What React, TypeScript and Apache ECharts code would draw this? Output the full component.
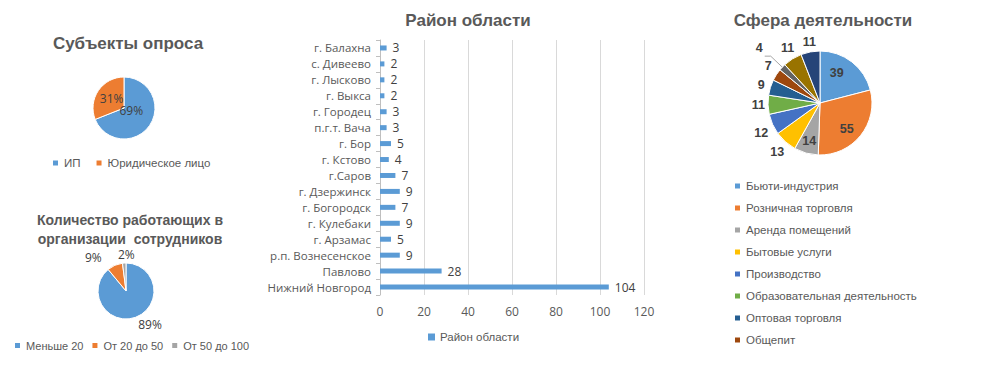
import React, { useEffect, useRef } from "react";
import * as echarts from "echarts";

const subjectNames = ["ИП", "Юридическое лицо"];
const subjectValues = [69, 31];

const staffNames = ["Меньше 20", "От 20 до 50", "От 50 до 100"];
const staffValues = [89, 9, 2];

const districtNames = [
  "г. Балахна", "с. Дивеево", "г. Лысково", "г. Выкса", "г. Городец", "п.г.т. Вача",
  "г. Бор", "г. Кстово", "г.Саров", "г. Дзержинск", "г. Богородск", "г. Кулебаки",
  "г. Арзамас", "р.п. Вознесенское", "Павлово", "Нижний Новгород",
];
const districtValues = [3, 2, 2, 2, 3, 3, 5, 4, 7, 9, 7, 9, 5, 9, 28, 104];

const sphereNames = [
  "Бьюти-индустрия", "Розничная торговля", "Аренда помещений", "Бытовые услуги",
  "Производство", "Образовательная деятельность", "Оптовая торговля", "Общепит",
  "Прочее 1", "Прочее 2", "Прочее 3",
];
const sphereValues = [39, 55, 14, 13, 12, 11, 9, 7, 4, 11, 11];
const sphereColors = [
  "#5B9BD5", "#ED7D31", "#A5A5A5", "#FFC000", "#4472C4", "#70AD47",
  "#255E91", "#9E480E", "#636363", "#997300", "#264478",
];

// label nudges (styling only)
const subjectNudge = [[-8, -8], [3, 1]];
const staffNudge = [[0, 0], [-10, 0], [11, -1]];
const sphereNudge = [
  [-1, -7], [4, 8], [-3, 10], [6, 4], [5, 5], [7, 0], [4, 0], [4, -4], [0, -8], [8, -4], [9, -2],
];

const FONT = "'Open Sans', 'Liberation Sans', sans-serif";
const TFONT = "'Liberation Sans', Arial, sans-serif";
const TXT = "#595959";
const LBL = "#404040";

const nudge = (arr: number[][]) => (p: any) => {
  const d = arr[p.dataIndex] || [0, 0];
  return { dx: d[0], dy: d[1], hideOverlap: false };
};

export default function App() {
  const ref = useRef<HTMLDivElement>(null);
  useEffect(() => {
    if (!ref.current) return;
    const chart = echarts.init(ref.current, null, { renderer: "svg" });
    const titleStyle = { color: TXT, fontWeight: "bold" as const, fontFamily: TFONT };
    const legendBase = {
      icon: "rect",
      itemWidth: 7,
      itemHeight: 7,
      textStyle: { color: TXT, fontSize: 11.5, fontFamily: TFONT },
    };
    chart.setOption({
      animation: false,
      textStyle: { fontFamily: FONT },
      title: [
        { text: "Субъекты опроса", left: 123, top: 30, textAlign: "center", textStyle: { ...titleStyle, fontSize: 17 } },
        {
          text: "Количество работающих в\nорганизации  сотрудников",
          left: 125, top: 205, textAlign: "center",
          textStyle: { ...titleStyle, fontSize: 14, lineHeight: 19 },
        },
        { text: "Район области", left: 463, top: 7, textAlign: "center", textStyle: { ...titleStyle, fontSize: 17 } },
        { text: "Сфера деятельности", left: 818, top: 7, textAlign: "center", textStyle: { ...titleStyle, fontSize: 17 } },
      ],
      legend: [
        { ...legendBase, data: subjectNames, left: 46, top: 152, itemGap: 14 },
        {
          ...legendBase, data: staffNames, left: 8, top: 335, itemGap: 7,
          textStyle: { color: TXT, fontSize: 11, fontFamily: TFONT },
        },
        { ...legendBase, data: ["Район области"], left: 423, top: 326 },
        {
          ...legendBase, data: sphereNames.slice(0, 8), orient: "vertical", left: 728, top: 174, itemGap: 8,
          textStyle: { color: TXT, fontSize: 11.5, fontFamily: TFONT, lineHeight: 14 },
        },
      ],
      grid: { left: 380, right: 346, top: 40, bottom: 94, containLabel: false },
      xAxis: {
        type: "value", min: 0, max: 120, interval: 20,
        axisLine: { show: false }, axisTick: { show: false },
        axisLabel: { color: TXT, fontSize: 12, margin: 10, fontFamily: FONT },
        splitLine: { lineStyle: { color: "#d9d9d9" } },
      },
      yAxis: {
        type: "category", inverse: true, data: districtNames,
        axisLine: { lineStyle: { color: "#bfbfbf" } },
        axisTick: { show: true, length: 4, lineStyle: { color: "#bfbfbf" } },
        axisLabel: { color: TXT, fontSize: 11.5, margin: 9, fontFamily: FONT },
      },
      series: [
        {
          type: "pie", name: "Субъекты опроса", center: [124, 108], radius: 31,
          data: subjectNames.map((n, i) => ({ name: n, value: subjectValues[i] })),
          color: ["#5B9BD5", "#ED7D31"],
          itemStyle: { borderColor: "#fff", borderWidth: 1 },
          label: { position: "inside", formatter: "{c}%", color: LBL, fontSize: 12, fontFamily: FONT },
          labelLine: { show: false },
          labelLayout: nudge(subjectNudge),
        },
        {
          type: "pie", name: "Количество", center: [126, 291], radius: 28,
          data: staffNames.map((n, i) => ({ name: n, value: staffValues[i] })),
          color: ["#5B9BD5", "#ED7D31", "#A5A5A5"],
          itemStyle: { borderColor: "#fff", borderWidth: 1 },
          label: { position: "outside", formatter: "{c}%", color: LBL, fontSize: 12, fontFamily: FONT, distanceToLabelLine: 0 },
          labelLine: { show: false, length: 8, length2: 0 },
          labelLayout: nudge(staffNudge),
          avoidLabelOverlap: false,
        },
        {
          type: "bar", name: "Район области", data: districtValues, barWidth: 5,
          itemStyle: { color: "#5B9BD5" },
          label: { show: true, position: "right", distance: 6, color: LBL, fontSize: 12, fontFamily: FONT },
        },
        {
          type: "pie", name: "Сфера деятельности", center: [820, 103], radius: 52,
          avoidLabelOverlap: false,
          labelLayout: nudge(sphereNudge),
          data: sphereNames.map((n, i) => ({
            name: n, value: sphereValues[i],
            itemStyle: { color: sphereColors[i] },
            label: i < 3 ? { position: "inside" } : { position: "outside" },
            labelLine: i === 8 ? { show: true, length: 16, length2: 6 } : { show: false, length: 8, length2: 0 },
          })),
          itemStyle: { borderColor: "#fff", borderWidth: 1 },
          label: { formatter: "{c}", color: LBL, fontSize: 12.5, fontWeight: "bold", fontFamily: TFONT, distanceToLabelLine: 2 },
          labelLine: { lineStyle: { color: "#a6a6a6" } },
        },
      ],
    });
    return () => chart.dispose();
  }, []);
  return (
    <div
      ref={ref}
      style={{ position: "absolute", left: 0, top: 0, width: 990, height: 389, background: "#fff" }}
    />
  );
}
